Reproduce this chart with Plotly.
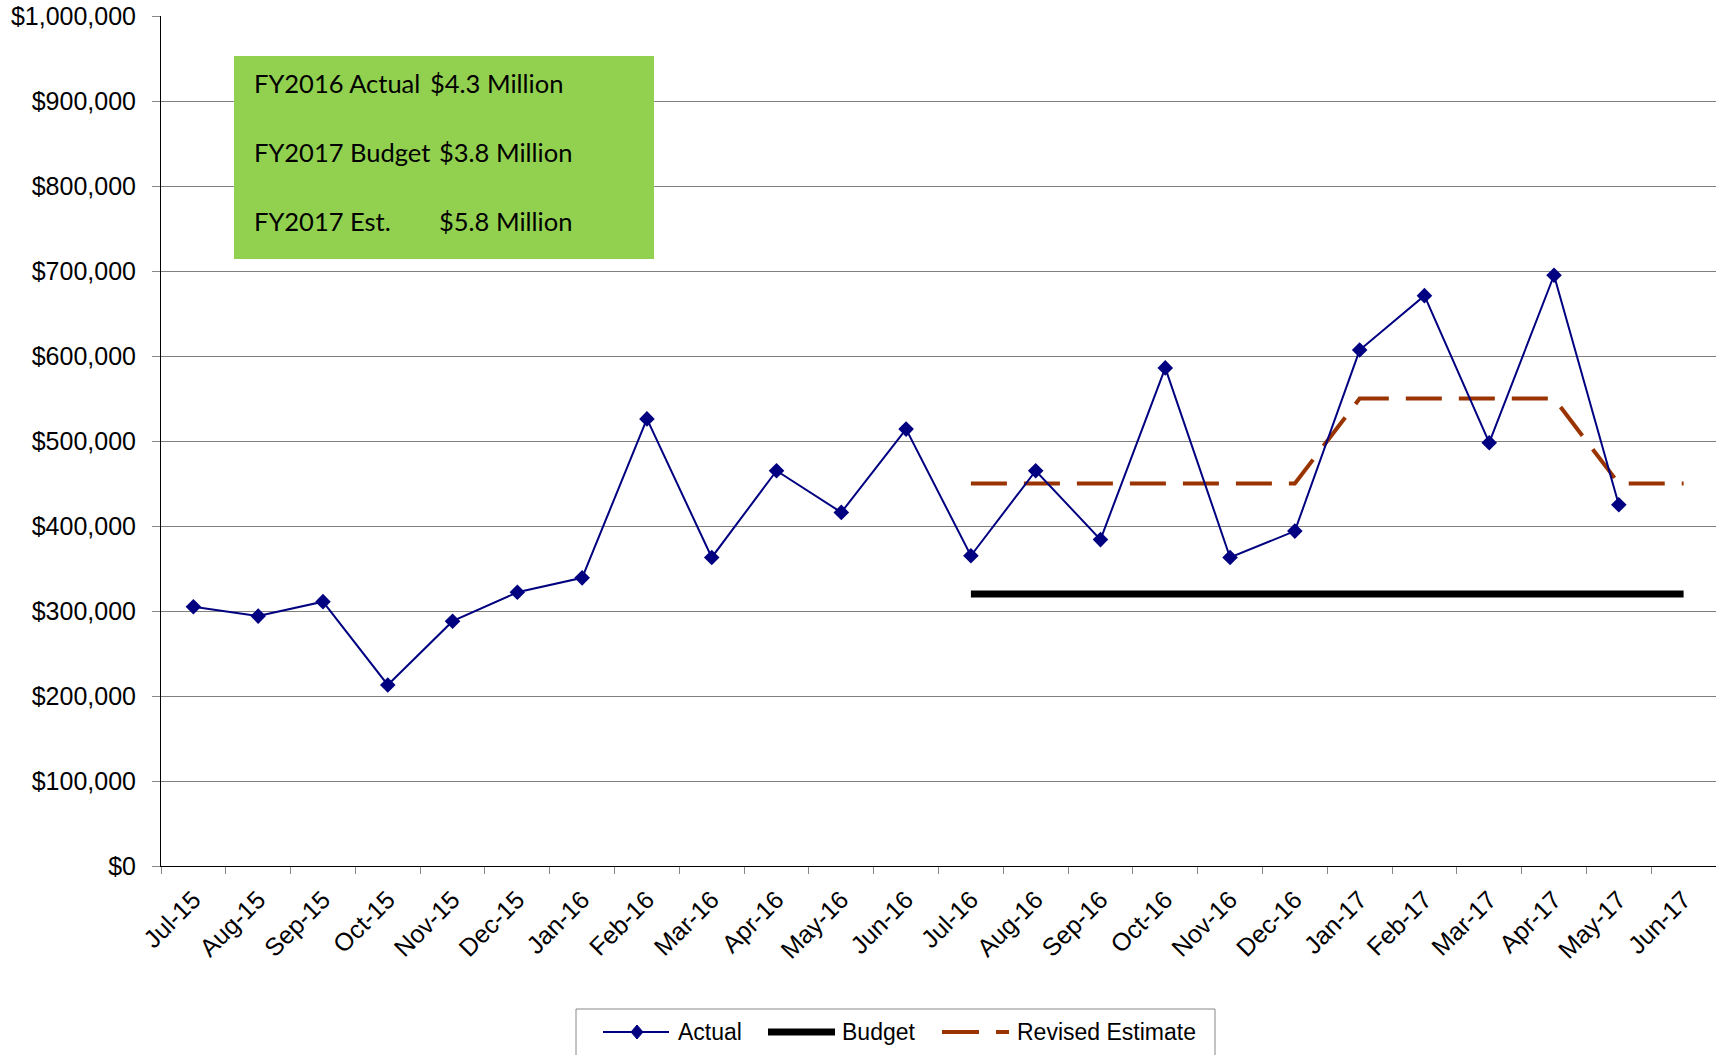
import plotly.graph_objects as go

months = ["Jul-15", "Aug-15", "Sep-15", "Oct-15", "Nov-15", "Dec-15", "Jan-16", "Feb-16",
          "Mar-16", "Apr-16", "May-16", "Jun-16", "Jul-16", "Aug-16", "Sep-16", "Oct-16",
          "Nov-16", "Dec-16", "Jan-17", "Feb-17", "Mar-17", "Apr-17", "May-17", "Jun-17"]
actual = [305000, 294000, 311000, 213000, 288000, 322000, 339000, 526000,
          363000, 465000, 416000, 514000, 365000, 465000, 384000, 586000,
          363000, 394000, 607000, 671000, 498000, 695000, 425000, None]
budget = [None] * 12 + [320000] * 12
revised = [None] * 12 + [450000, 450000, 450000, 450000, 450000, 450000,
                         550000, 550000, 550000, 550000, 450000, 450000]
y_ticks = [0, 100000, 200000, 300000, 400000, 500000, 600000, 700000, 800000, 900000, 1000000]
box_labels = ["FY2016 Actual", "FY2017 Budget", "FY2017 Est."]
box_values = ["$4.3 Million", "$3.8 Million", "$5.8 Million"]
legend_names = ["Actual", "Budget", "Revised Estimate"]

W, H = 1716, 1055
L, R, T, B = 161, 0, 16, 189
PW, PH = W - L - R, H - T - B


def px(x):
    return (x - L) / PW


def py(y):
    return (H - B - y) / PH


NAVY = "#000080"
BROWN = "#993300"
AX_FONT = dict(family="Liberation Sans, Arial, sans-serif", size=25, color="black")

fig = go.Figure()
fig.add_trace(go.Scatter(x=months, y=revised, mode="lines", name=legend_names[2],
                         line=dict(color=BROWN, width=4, dash="36px,17px"),
                         showlegend=False, connectgaps=False))
fig.add_trace(go.Scatter(x=months, y=budget, mode="lines", name=legend_names[1],
                         line=dict(color="black", width=7), showlegend=False))
fig.add_trace(go.Scatter(x=months, y=actual, mode="lines+markers", name=legend_names[0],
                         line=dict(color=NAVY, width=2),
                         marker=dict(symbol="diamond", size=12, color=NAVY),
                         showlegend=False))

shapes = []
annotations = []

# green summary box
shapes.append(dict(type="rect", xref="paper", yref="paper",
                   x0=px(234), x1=px(654), y0=py(259), y1=py(56),
                   fillcolor="#92D050", line=dict(width=0), layer="above"))
box_font = dict(family="Lato, Calibri, sans-serif", size=25.5, color="black")
line_ys = [83, 152, 221]
value_xs = [428, 437, 437]
for lab, val, yy, vx in zip(box_labels, box_values, line_ys, value_xs):
    annotations.append(dict(text=lab, xref="paper", yref="paper", x=px(252), y=py(yy),
                            xanchor="left", yanchor="middle", showarrow=False, font=box_font))
    annotations.append(dict(text=val, xref="paper", yref="paper", x=px(vx), y=py(yy),
                            xanchor="left", yanchor="middle", showarrow=False, font=box_font))

# custom legend
ly = 1032
shapes.append(dict(type="rect", xref="paper", yref="paper",
                   x0=px(576), x1=px(1215), y0=py(1080), y1=py(1009),
                   fillcolor="white", line=dict(color="#888888", width=1)))
shapes.append(dict(type="line", xref="paper", yref="paper",
                   x0=px(603), x1=px(669), y0=py(ly), y1=py(ly),
                   line=dict(color=NAVY, width=2)))
cx, hw, hh = 637, 6, 7
shapes.append(dict(type="path", xref="paper", yref="paper",
                   path=f"M {px(cx - hw)},{py(ly)} L {px(cx)},{py(ly - hh)} L {px(cx + hw)},{py(ly)} L {px(cx)},{py(ly + hh)} Z",
                   fillcolor=NAVY, line=dict(color=NAVY, width=1)))
shapes.append(dict(type="line", xref="paper", yref="paper",
                   x0=px(768), x1=px(835), y0=py(ly), y1=py(ly),
                   line=dict(color="black", width=7)))
shapes.append(dict(type="line", xref="paper", yref="paper",
                   x0=px(942), x1=px(979), y0=py(ly), y1=py(ly),
                   line=dict(color=BROWN, width=4)))
shapes.append(dict(type="line", xref="paper", yref="paper",
                   x0=px(996), x1=px(1009), y0=py(ly), y1=py(ly),
                   line=dict(color=BROWN, width=4)))
leg_font = dict(family="Liberation Sans, Arial, sans-serif", size=23, color="black")
for name, tx in zip(legend_names, [676, 840, 1015]):
    annotations.append(dict(text=name, xref="paper", yref="paper", x=px(tx), y=py(ly),
                            xanchor="left", yanchor="middle", showarrow=False, font=leg_font))

fig.update_layout(
    width=W, height=H,
    margin=dict(l=L, r=R, t=T, b=B, pad=0),
    paper_bgcolor="white", plot_bgcolor="white",
    showlegend=False,
    shapes=shapes, annotations=annotations,
    xaxis=dict(type="category", categoryorder="array", categoryarray=months,
               range=[-0.5, 23.5], tickson="boundaries", ticks="outside", ticklen=7,
               tickcolor="#888888", tickwidth=1, tickangle=-45, showgrid=False,
               showline=True, linecolor="black", linewidth=1, tickfont=AX_FONT,
               ticklabelstandoff=8, fixedrange=True),
    yaxis=dict(range=[0, 1000000], tickvals=y_ticks, tickformat="$,.0f",
               ticks="outside", ticklen=8, tickcolor="#888888", tickwidth=1,
               showgrid=True, gridcolor="#808080", gridwidth=1, zeroline=False,
               showline=True, linecolor="black", linewidth=1,
               tickfont=dict(family="Liberation Sans, Arial, sans-serif", size=25, color="black"),
               ticklabelstandoff=11, fixedrange=True),
)

fig.write_html("out.html")
